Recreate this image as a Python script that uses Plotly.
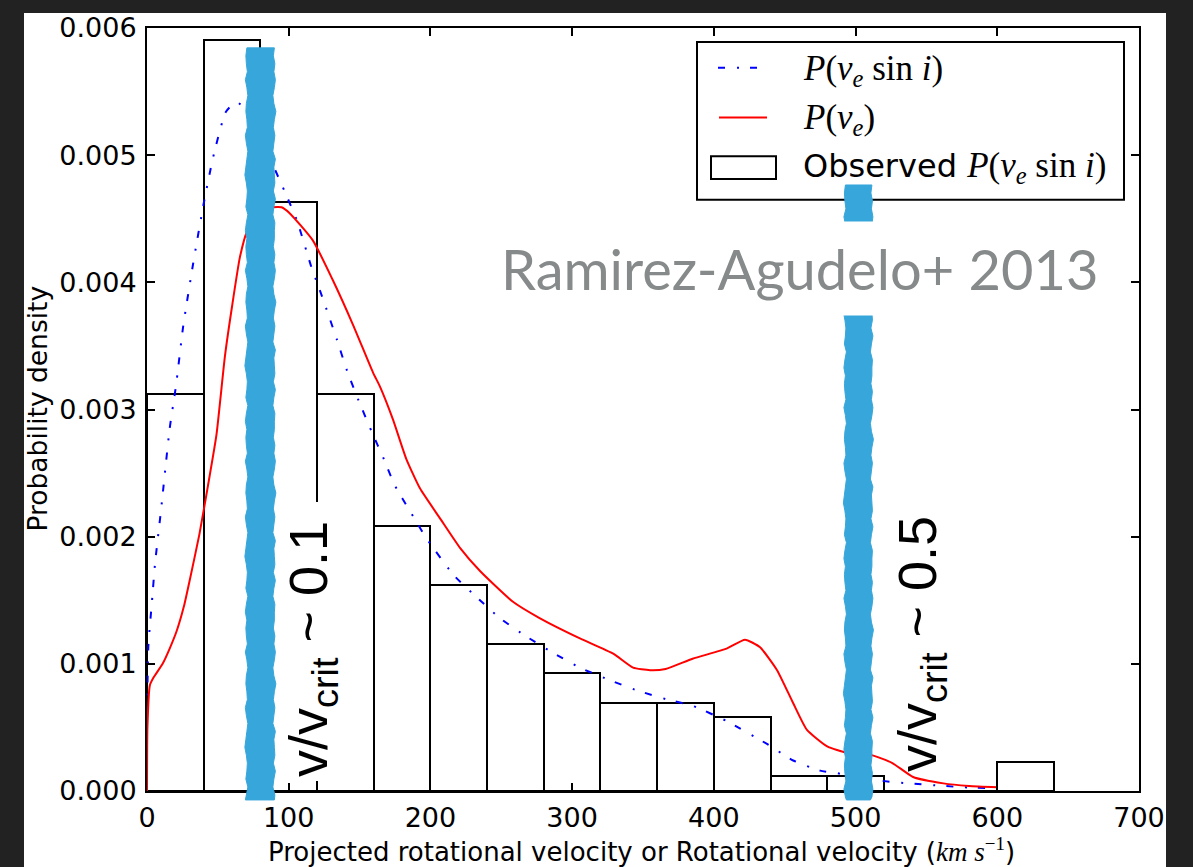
import plotly.graph_objects as go

# ---- observed histogram (40 km/s bins), star counts per bin ----
bin_left = [0, 40, 80, 120, 160, 200, 240, 280, 320, 360, 400, 440, 480, 520, 560, 600]
bin_counts = [27, 51, 40, 27, 18, 14, 10, 8, 6, 6, 5, 1, 1, 0, 0, 2]
bin_width = 40

# ---- P(v_e sin i): inferred projected-velocity distribution ----
vsini_v = [0, 1, 3.5, 5.6, 10, 16, 20.5, 25.6, 32.6, 40, 46.6, 55.6, 63, 70.5, 78, 85,
           98.5, 106, 116, 123.5, 134, 141, 149, 159.5, 166, 175, 185.6, 197.6, 217,
           233, 249, 267, 286, 305.5, 324.6, 346, 367, 385, 409, 437.5, 456, 475, 487,
           500, 526, 550, 575, 600]
vsini_p = [0.0006, 0.00115, 0.00149, 0.00178, 0.00222, 0.00285, 0.00319, 0.00366,
           0.00415, 0.00462, 0.00498, 0.00534, 0.00542, 0.00535, 0.00520, 0.00502,
           0.00468, 0.00448, 0.00412, 0.00389, 0.00355, 0.00331, 0.00308, 0.00280,
           0.00264, 0.00240, 0.00220, 0.00198, 0.00169, 0.00152, 0.00136, 0.00122,
           0.00109, 0.00097, 0.00088, 0.00079, 0.00072, 0.00067, 0.00055, 0.00037,
           0.00024, 0.00016, 0.00014, 0.00011, 0.00007, 0.00005, 0.00003, 0.00002]

# ---- P(v_e): deconvolved equatorial-velocity distribution ----
ve_v = [0, 0.3, 2, 4.5, 11, 16, 21, 26, 30, 37, 43, 49, 55, 60, 65.6, 70.6, 80, 89, 95,
        101, 117, 131, 145.6, 159.5, 164.4, 173.6, 183, 192.6, 207, 221, 235, 258, 277,
        305.5, 329, 343, 355, 366, 385, 409, 422, 432.6, 444.6, 456, 465.7, 480, 494,
        512, 526, 540.6, 562, 580, 600]
ve_p = [0.0, 0.0005, 0.00083, 0.00089, 0.00100, 0.00112, 0.00126, 0.00145, 0.00165,
        0.00202, 0.00240, 0.00280, 0.00342, 0.00381, 0.00420, 0.00440, 0.00455,
        0.00459, 0.00459, 0.00454, 0.00433, 0.00402, 0.00366, 0.00329, 0.00318,
        0.00292, 0.00261, 0.00238, 0.00214, 0.00191, 0.00173, 0.00149, 0.00136,
        0.00120, 0.00108, 0.00097, 0.00095, 0.00096, 0.00104, 0.00112, 0.00119,
        0.00113, 0.00095, 0.00069, 0.00048, 0.00035, 0.00030, 0.00028, 0.00022,
        0.00011, 0.00006, 0.00004, 0.00003]

# velocities marked as v/v_crit ~ 0.1 and ~ 0.5
crit_marks = [80, 502]

x_ticks = [0, 100, 200, 300, 400, 500, 600, 700]
y_ticks = [0.000, 0.001, 0.002, 0.003, 0.004, 0.005, 0.006]

n_total = sum(bin_counts)
density = [c / (n_total * bin_width) for c in bin_counts]
centers = [b + bin_width / 2 for b in bin_left]

W, H = 1193, 867
L, R, T, B = 147, 1139, 23, 791
X_RANGE = [0, 700]


def px(xp):
    return (xp - L) / (R - L)


def py(yp):
    return (B - yp) / (B - T)


def dx(pixels):
    """horizontal pixel offset expressed in km/s"""
    return pixels * (X_RANGE[1] - X_RANGE[0]) / (R - L)


# hand-drawn wobble of the marker-pen strokes (pixels)
LEFT_WOBBLE = [0, 1, 0.5, -0.5, 1.5, 0, -1, 0.5, 1, 0, -0.5, 1.5, 0.5, -1, 0, 1,
               2, 0.5, -0.5, 0, 1, -1, 0.5, 1.5]
RIGHT_WOBBLE = [0.5, -0.5, 1, 0, 1.5, 0.5, -1, 0, 2, 0.5, -0.5, 1, 0, -1, 1.5, 0,
                0.5, 1, -0.5, 1.5, 0, -1, 1, 0.5]


def brush_path(v_center, y_top, y_bottom, half_width, step=8):
    ys = list(range(int(y_top), int(y_bottom) + 1, step))
    if ys[-1] != y_bottom:
        ys.append(y_bottom)
    left = [(v_center - dx(half_width + LEFT_WOBBLE[i % len(LEFT_WOBBLE)]), py(y))
            for i, y in enumerate(ys)]
    right = [(v_center + dx(half_width + RIGHT_WOBBLE[i % len(RIGHT_WOBBLE)]), py(y))
             for i, y in enumerate(ys)]
    pts = left + right[::-1]
    return "M " + " L ".join(f"{a:.3f},{b:.5f}" for a, b in pts) + " Z"


BLUE_DASH = "7px,12px,2px,11px"
SKY = "#37a6db"
SANS = "DejaVu Sans"
SERIF = "Liberation Serif"

fig = go.Figure()

fig.add_trace(go.Bar(
    x=centers, y=density, width=bin_width,
    marker=dict(color="rgba(255,255,255,0)", line=dict(color="black", width=2)),
    showlegend=False, hoverinfo="skip",
))
fig.add_trace(go.Scatter(
    x=vsini_v, y=vsini_p, mode="lines",
    line=dict(color="#0000ff", width=2, dash=BLUE_DASH, shape="spline", smoothing=0.5),
    showlegend=False, hoverinfo="skip",
))
fig.add_trace(go.Scatter(
    x=ve_v, y=ve_p, mode="lines",
    line=dict(color="#ff0000", width=2, shape="spline", smoothing=0.5),
    showlegend=False, hoverinfo="skip",
))

shapes = []
# white figure area inside the dark frame
shapes.append(dict(type="rect", xref="paper", yref="paper", layer="below",
                   x0=px(24), x1=px(1166), y0=py(H + 100), y1=py(8),
                   fillcolor="white", line=dict(width=0)))

# legend box and samples
shapes.append(dict(type="rect", xref="paper", yref="paper",
                   x0=px(697), x1=px(1124), y0=py(196), y1=py(37),
                   fillcolor="white", line=dict(color="black", width=2)))
shapes.append(dict(type="line", xref="paper", yref="paper",
                   x0=px(718), x1=px(766), y0=py(63), y1=py(63),
                   line=dict(color="#0000ff", width=2, dash=BLUE_DASH)))
shapes.append(dict(type="line", xref="paper", yref="paper",
                   x0=px(719), x1=px(767), y0=py(113), y1=py(113),
                   line=dict(color="#ff0000", width=2)))
shapes.append(dict(type="rect", xref="paper", yref="paper",
                   x0=px(711), x1=px(776), y0=py(175), y1=py(152),
                   fillcolor="white", line=dict(color="black", width=2)))

# marker-pen strokes at the critical-velocity fractions
shapes.append(dict(type="path", xref="x", yref="paper",
                   path=brush_path(crit_marks[0], 43, 800, 13.5),
                   fillcolor=SKY, line=dict(color=SKY, width=1)))
shapes.append(dict(type="path", xref="x", yref="paper",
                   path=brush_path(crit_marks[1], 181, 800, 13),
                   fillcolor=SKY, line=dict(color=SKY, width=1)))

# white panel behind the first vertical label
shapes.append(dict(type="rect", xref="paper", yref="paper",
                   x0=px(281), x1=px(350), y0=py(781), y1=py(500),
                   fillcolor="white", line=dict(width=0)))


def math(s, size=None):
    style = f"font-family:{SERIF}"
    if size:
        style += f";font-size:{size}px"
    return f'<span style="{style}">{s}</span>'


p_vsini = "<i>P</i>(<i>v</i><sub><i>e</i></sub> sin <i>i</i>)"
p_ve = "<i>P</i>(<i>v</i><sub><i>e</i></sub>)"

annotations = [
    dict(xref="paper", yref="paper", x=px(801), y=py(66), xanchor="left", yanchor="middle",
         text=math(p_vsini), showarrow=False, font=dict(family=SERIF, size=35, color="black")),
    dict(xref="paper", yref="paper", x=px(801), y=py(115), xanchor="left", yanchor="middle",
         text=math(p_ve), showarrow=False, font=dict(family=SERIF, size=35, color="black")),
    dict(xref="paper", yref="paper", x=px(801), y=py(163), xanchor="left", yanchor="middle",
         text="Observed " + math(p_vsini, 35), showarrow=False,
         font=dict(family=SANS, size=32, color="black")),
    dict(xref="paper", yref="paper", x=px(799), y=py(265), xanchor="center", yanchor="middle",
         text="Ramirez-Agudelo+ 2013", showarrow=False, bgcolor="white", borderpad=13,
         font=dict(family="Lato", size=56, color="#878a8a")),
    dict(xref="paper", yref="paper", x=px(312), y=py(648), xanchor="center", yanchor="middle",
         text="v/v<sub>crit</sub> ~ 0.1", textangle=-90, showarrow=False,
         font=dict(family="Liberation Sans", size=54, color="black")),
    dict(xref="paper", yref="paper", x=px(921), y=py(643), xanchor="center", yanchor="middle",
         text="v/v<sub>crit</sub> ~ 0.5", textangle=-90, showarrow=False,
         font=dict(family="Liberation Sans", size=54, color="black")),
    dict(xref="paper", yref="paper", x=px(641), y=py(850), xanchor="center", yanchor="middle",
         text="Projected rotational velocity or Rotational velocity (" +
              math("<i>km s</i><sup>\u22121</sup>", 27) + ")",
         showarrow=False, font=dict(family=SANS, size=26, color="black")),
    dict(xref="paper", yref="paper", x=px(38), y=py(406), xanchor="center", yanchor="middle",
         text="Probability density", textangle=-90, showarrow=False,
         font=dict(family=SANS, size=26.5, color="black")),
]

axis_common = dict(
    showgrid=False, zeroline=False, showline=True, linecolor="black", linewidth=2,
    mirror="ticks", ticks="inside", ticklen=8, tickwidth=1.5, tickcolor="black",
    tickfont=dict(family=SANS, size=27, color="black"),
)

fig.update_layout(
    width=W, height=H,
    margin=dict(l=L, r=W - R, t=T, b=H - B, pad=0),
    paper_bgcolor="#222222", plot_bgcolor="white",
    xaxis=dict(range=X_RANGE, tickvals=x_ticks, ticktext=[str(v) for v in x_ticks],
               ticklabelstandoff=2, **axis_common),
    yaxis=dict(range=[0, 0.006], tickvals=y_ticks, ticktext=[f"{v:.3f}" for v in y_ticks],
               ticklabelstandoff=3, **axis_common),
    bargap=0,
    shapes=shapes,
    annotations=annotations,
)

fig.write_html("out.html")
